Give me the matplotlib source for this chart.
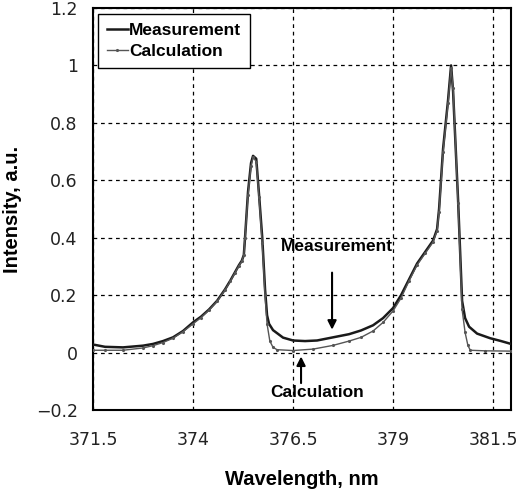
import matplotlib
matplotlib.use("Agg")
import matplotlib.pyplot as plt

plt.rcParams['font.family'] = ['Liberation Sans', 'DejaVu Sans']

meas_x = [371.5, 371.8, 372.25, 372.75, 373.0, 373.25, 373.5, 373.75, 374.0, 374.2,
          374.4, 374.6, 374.8, 374.93, 375.05, 375.15, 375.22, 375.27, 375.3, 375.375,
          375.45, 375.5, 375.58, 375.65, 375.73, 375.8, 375.85, 375.9, 376.0, 376.25,
          376.5, 376.8, 377.1, 377.5, 377.9, 378.2, 378.5, 378.75, 379.0, 379.2,
          379.4, 379.6, 379.8, 380.0, 380.1, 380.15, 380.25, 380.375, 380.45, 380.5,
          380.625, 380.725, 380.8, 380.9, 381.1, 381.425, 381.7, 381.95]
meas_y = [0.028, 0.02, 0.018, 0.024, 0.03, 0.04, 0.053, 0.075, 0.105, 0.125,
          0.15, 0.18, 0.22, 0.25, 0.28, 0.305, 0.32, 0.34, 0.40, 0.56,
          0.66, 0.685, 0.675, 0.55, 0.40, 0.22, 0.13, 0.10, 0.078, 0.052,
          0.042, 0.040, 0.042, 0.053, 0.064, 0.077, 0.095, 0.12, 0.155, 0.20,
          0.255, 0.31, 0.35, 0.39, 0.43, 0.50, 0.71, 0.88, 1.0, 0.91,
          0.53, 0.18, 0.12, 0.09, 0.066, 0.05, 0.04, 0.03]

calc_x = [371.5, 371.8, 372.25, 372.75, 373.0, 373.25, 373.5, 373.75, 374.0, 374.2,
          374.4, 374.6, 374.8, 374.93, 375.05, 375.15, 375.22, 375.27, 375.3, 375.375,
          375.45, 375.5, 375.58, 375.65, 375.73, 375.8, 375.85, 375.92, 376.0, 376.1,
          376.5, 377.0, 377.5, 377.9, 378.2, 378.5, 378.75, 379.0, 379.2, 379.4,
          379.6, 379.8, 380.0, 380.1, 380.15, 380.25, 380.375, 380.45, 380.5, 380.625,
          380.725, 380.8, 380.87, 380.93, 381.3, 381.95]
calc_y = [0.008, 0.008, 0.008, 0.016, 0.024, 0.035, 0.05, 0.073, 0.10, 0.122,
          0.148, 0.178, 0.218, 0.248, 0.278, 0.303, 0.318, 0.34, 0.40, 0.55,
          0.65, 0.68, 0.665, 0.54, 0.38, 0.20, 0.10, 0.04, 0.018, 0.01,
          0.007, 0.012, 0.025, 0.04, 0.053, 0.075, 0.105, 0.145, 0.19, 0.25,
          0.305, 0.345, 0.385, 0.425, 0.49, 0.70, 0.87, 0.99, 0.92, 0.52,
          0.15, 0.07, 0.025, 0.008, 0.006, 0.005]

xticks = [371.5, 374, 376.5, 379, 381.5]
xticklabels = ['371.5', '374', '376.5', '379', '381.5']
yticks = [-0.2, 0, 0.2, 0.4, 0.6, 0.8, 1.0, 1.2]
yticklabels = ['\u22120.2', '0', '0.2', '0.4', '0.6', '0.8', '1', '1.2']

fig = plt.figure(figsize=(5.21, 4.90), dpi=100)
ax = fig.add_axes([0.1785, 0.1633, 0.8025, 0.8204])

ax.plot(meas_x, meas_y, color='#1a1a1a', lw=1.8, label='Measurement', zorder=3)
ax.plot(calc_x, calc_y, color='#555555', lw=1.0, marker='.', markersize=2.5,
        label='Calculation', zorder=4)

ax.set_xlim(371.5, 381.95)
ax.set_ylim(-0.2, 1.2)
ax.set_xticks(xticks)
ax.set_xticklabels(xticklabels, family='DejaVu Sans')
ax.set_yticks(yticks)
ax.set_yticklabels(yticklabels, family='DejaVu Sans')
ax.tick_params(axis='x', length=0, pad=15, labelsize=12.5, colors='#222222')
ax.tick_params(axis='y', length=0, pad=11, labelsize=12.5, colors='#222222')
ax.grid(True, color='black', linestyle=(0, (3, 3)), linewidth=0.9)
for s in ax.spines.values():
    s.set_linewidth(1.5)
    s.set_color('black')

ax.set_xlabel('Wavelength, nm', fontsize=14.5, fontweight='bold', labelpad=15)
ax.set_ylabel('Intensity, a.u.', fontsize=14.5, fontweight='bold', labelpad=10)

leg = ax.legend(loc='upper left', bbox_to_anchor=(0.012, 0.985), borderaxespad=0,
                fancybox=False, edgecolor='black', framealpha=1,
                prop={'weight': 'bold', 'size': 12.5}, handlelength=1.2,
                handletextpad=0.1, borderpad=0.5, labelspacing=0.35)
leg.get_frame().set_linewidth(1.0)

ax.annotate('', xy=(377.475, 0.07), xytext=(377.475, 0.288),
            arrowprops=dict(arrowstyle='-|>', color='black', lw=1.5, mutation_scale=13))
ax.text(377.6, 0.368, 'Measurement', ha='center', va='center', fontsize=12.5, fontweight='bold')
ax.annotate('', xy=(376.7, -0.004), xytext=(376.7, -0.116),
            arrowprops=dict(arrowstyle='-|>', color='black', lw=1.5, mutation_scale=13))
ax.text(377.1, -0.14, 'Calculation', ha='center', va='center', fontsize=12.5, fontweight='bold')

fig.savefig('out.png', dpi=100)
